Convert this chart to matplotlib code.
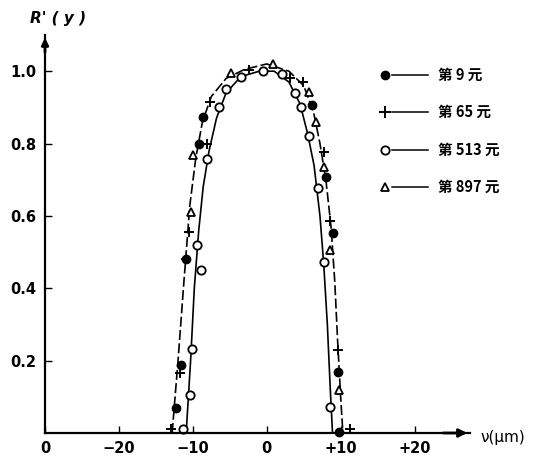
import matplotlib.pyplot as plt
from matplotlib.lines import Line2D

plt.rcParams['font.family'] = ['Noto Sans CJK SC', 'DejaVu Sans']

# points, x in um, y = R'(y)
x_9 = [-12.3, -11.6, -10.9, -9.2, -8.65, 6.1, 8.0, 8.9, 9.7, 9.8]
y_9 = [0.07, 0.188, 0.48, 0.80, 0.874, 0.906, 0.708, 0.552, 0.169, 0.004]

x_65 = [-12.9, -11.7, -10.9, -10.5, -8.1, -7.7, -2.4, 3.1, 4.9, 7.7, 8.55, 9.6, 11.3]
y_65 = [0.01, 0.166, 0.48, 0.555, 0.80, 0.915, 1.003, 0.98, 0.97, 0.777, 0.586, 0.229, 0.01]

x_513 = [-11.35, -10.45, -10.1, -9.45, -8.95, -8.05, -6.5, -5.5, -3.5, -0.5,
         2.0, 3.8, 4.7, 5.7, 7.0, 7.8, 8.55]
y_513 = [0.01, 0.105, 0.232, 0.519, 0.45, 0.756, 0.90, 0.952, 0.985, 1.0,
         0.992, 0.94, 0.90, 0.82, 0.676, 0.473, 0.071]

x_897 = [-10.2, -10.0, -4.8, 0.8, 5.7, 6.65, 7.7, 8.6, 9.8]
y_897 = [0.61, 0.768, 0.994, 1.02, 0.943, 0.86, 0.736, 0.507, 0.119]

# the two drawn curves
outer_x = [-12.8, -12.0, -11.2, -10.4, -9.6, -8.7, -7.5, -5.5, -3.0, 0.0,
           3.0, 5.0, 6.3, 7.2, 8.0, 8.7, 9.2, 9.6, 10.0, 10.3]
outer_y = [0.0, 0.2, 0.42, 0.63, 0.76, 0.86, 0.93, 0.98, 1.005, 1.02,
           1.0, 0.96, 0.89, 0.8, 0.7, 0.57, 0.42, 0.25, 0.1, 0.0]
inner_x = [-10.9, -10.3, -9.8, -9.2, -8.6, -7.8, -6.8, -5.5, -3.5, -1.0,
           1.0, 3.0, 4.5, 5.5, 6.4, 7.2, 7.7, 8.2, 8.6, 8.9]
inner_y = [0.0, 0.2, 0.4, 0.56, 0.68, 0.78, 0.87, 0.94, 0.985, 1.0,
           1.0, 0.97, 0.91, 0.83, 0.74, 0.6, 0.47, 0.3, 0.12, 0.0]

xticks = [-30, -20, -10, 0, 10, 20]
xlabels = ['0', '\u221220', '\u221210', '0', '+10', '+20']
yticks = [0.2, 0.4, 0.6, 0.8, 1.0]
ylabels = ['0.2', '0.4', '0.6', '0.8', '1.0']
names = ['第 9 元', '第 65 元', '第 513 元', '第 897 元']

fig = plt.figure(figsize=(5.43, 4.61), dpi=100)
ax = fig.add_axes([45/543, 28/461, 425/543, 398/461])
ax.set_xlim(-30, 27.5)
ax.set_ylim(0, 1.10)

ax.plot(outer_x, outer_y, color='black', lw=1.2, ls=(0, (6, 2)))
ax.plot(inner_x, inner_y, color='black', lw=1.2)

ax.plot(x_9, y_9, 'o', color='black', ms=6, ls='none', clip_on=False)
ax.plot(x_65, y_65, '+', color='black', ms=7, mew=1.4, ls='none', clip_on=False)
ax.plot(x_513, y_513, 'o', mfc='white', mec='black', mew=1.3, ms=6, ls='none', clip_on=False)
ax.plot(x_897, y_897, '^', mfc='white', mec='black', mew=1.3, ms=6, ls='none', clip_on=False)

for s in ['top', 'right']:
    ax.spines[s].set_visible(False)
ax.spines['left'].set_linewidth(1.6)
ax.spines['bottom'].set_linewidth(1.6)

ax.set_xticks(xticks)
ax.set_xticklabels(xlabels, fontfamily='DejaVu Sans', fontsize=10.5, fontweight='bold')
ax.set_yticks(yticks)
ax.set_yticklabels(ylabels, fontfamily='DejaVu Sans', fontsize=10.5, fontweight='bold')
ax.tick_params(direction='in', length=5, width=1.0, pad=6)

# arrow heads on the axes
ax.annotate('', xy=(1.0, 0), xycoords='axes fraction', xytext=(0.93, 0),
            arrowprops=dict(arrowstyle='-|>', color='black', lw=2, mutation_scale=12))
ax.annotate('', xy=(0, 1.0), xycoords='axes fraction', xytext=(0, 0.95),
            arrowprops=dict(arrowstyle='-|>', color='black', lw=2, mutation_scale=10))

fig.text(30/543, 1 - 18/461, "R' ( y )", fontsize=11, fontweight='bold', style='italic',
         family='DejaVu Sans', va='center')
fig.text(480/543, 1 - 437/461, 'ν(μm)', fontsize=11, va='center', family='DejaVu Sans')

# legend drawn by hand: marker, short line, label
rows = [75, 112, 150, 187]
styles = [dict(marker='o', mfc='black', mec='black'),
          dict(marker='+', mfc='black', mec='black', mew=1.4, ms=8),
          dict(marker='o', mfc='white', mec='black', mew=1.3),
          dict(marker='^', mfc='white', mec='black', mew=1.3)]
for r, st, name in zip(rows, styles, names):
    yf = 1 - r / 461
    kw = dict(ms=6)
    kw.update(st)
    fig.add_artist(Line2D([385/543], [yf], color='black', ls='none', **kw))
    fig.add_artist(Line2D([392/543, 428/543], [yf, yf], color='black', lw=1.1))
    fig.text(438/543, yf, name, fontsize=10.5, fontweight='bold', va='center')

fig.savefig('out.png', dpi=100)
